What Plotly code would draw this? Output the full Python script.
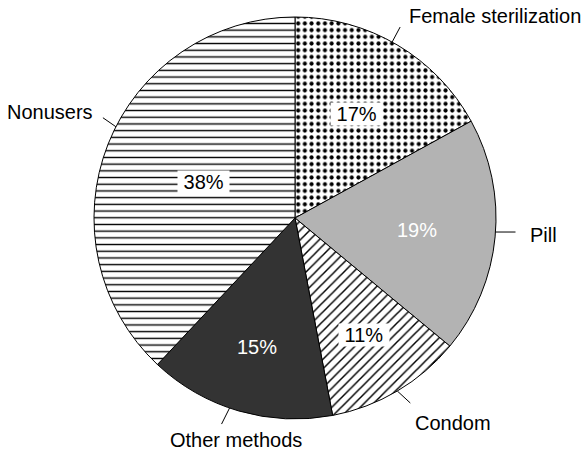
import math
import plotly.graph_objects as go

# ---- data ----
categories = ["Female sterilization", "Pill", "Condom", "Other methods", "Nonusers"]
shares = [17, 19, 11, 15, 38]
pct_labels = ["17%", "19%", "11%", "15%", "38%"]

# ---- style ----
W, H = 586, 451
CX, CY, R = 295, 218, 201          # pie centre / radius in pixels
FONT = "Liberation Sans, Arial, Helvetica, sans-serif"
FS = 20

fills = ["white", "#b3b3b3", "white", "#333333", "white"]
pat_shapes = [".", "", "/", "", "-"]
pat_sizes = [6.7, 8, 6.7, 8, 6.7]
pat_solid = [0.3, 0.3, 0.22, 0.3, 0.21]

pct_radius = [0.60, 0.61, 0.675, 0.67, 0.49]
pct_color = ["black", "white", "black", "white", "black"]
pct_box = [True, False, True, False, True]

# leader-line style: angle nudge (deg), leader vector (px), text offset from leader end (px), anchor
leader = [
    dict(nudge=-1.7, vec=(8, -15), off=(7, -11), anchor="left"),
    dict(nudge=-1.4, vec=(20, 0), off=(12, 3), anchor="left"),
    dict(nudge=0.0, vec=(13, 12), off=(3, 20), anchor="left"),
    dict(nudge=2.8, vec=(-8, 16), off=(14, 16), anchor="center"),
    dict(nudge=5.4, vec=(-13, -9), off=(-8, -6), anchor="right"),
]


def px(x):
    return x / W


def py(y):
    return 1 - y / H


fig = go.Figure(
    go.Pie(
        labels=categories,
        values=shares,
        sort=False,
        direction="clockwise",
        rotation=0,
        textinfo="none",
        hoverinfo="label+percent",
        marker=dict(
            colors=fills,
            line=dict(color="black", width=1),
            pattern=dict(
                shape=pat_shapes,
                size=pat_sizes,
                solidity=pat_solid,
                fgcolor="black",
                bgcolor=fills,
            ),
        ),
        domain=dict(
            x=[px(CX - R), px(CX + R)],
            y=[py(CY + R), py(CY - R)],
        ),
    )
)

total = sum(shares)
annotations = []
shapes = []
cum = 0
for i, v in enumerate(shares):
    mid = (cum + v / 2) / total * 360
    cum += v
    a = math.radians(mid)
    # percentage label inside slice
    rr = R * pct_radius[i]
    tx, ty = CX + rr * math.sin(a), CY - rr * math.cos(a)
    txt = pct_labels[i]
    if pct_box[i]:
        txt = "\u00a0" + txt + "\u00a0"
    annotations.append(
        dict(
            x=px(tx), y=py(ty), xref="paper", yref="paper",
            text=txt, showarrow=False,
            font=dict(family=FONT, size=FS, color=pct_color[i]),
            bgcolor="white" if pct_box[i] else None,
            borderpad=0,
            xanchor="center", yanchor="middle",
        )
    )
    # leader line + outside category label
    L = leader[i]
    b = math.radians(mid + L["nudge"])
    sx, sy = CX + R * math.sin(b), CY - R * math.cos(b)
    ex, ey = sx + L["vec"][0], sy + L["vec"][1]
    shapes.append(
        dict(type="line", xref="paper", yref="paper",
             x0=px(sx), y0=py(sy), x1=px(ex), y1=py(ey),
             line=dict(color="black", width=1))
    )
    annotations.append(
        dict(
            x=px(ex + L["off"][0]), y=py(ey + L["off"][1]),
            xref="paper", yref="paper",
            text=categories[i], showarrow=False,
            font=dict(family=FONT, size=FS, color="black"),
            xanchor=L["anchor"], yanchor="middle",
        )
    )

fig.update_layout(
    width=W, height=H,
    margin=dict(l=0, r=0, t=0, b=0),
    paper_bgcolor="white",
    plot_bgcolor="white",
    showlegend=False,
    annotations=annotations,
    shapes=shapes,
)

fig.write_html(
    "out.html",
    config={"displayModeBar": False},
    post_script="document.body.style.margin='0';document.body.style.padding='0';",
)
